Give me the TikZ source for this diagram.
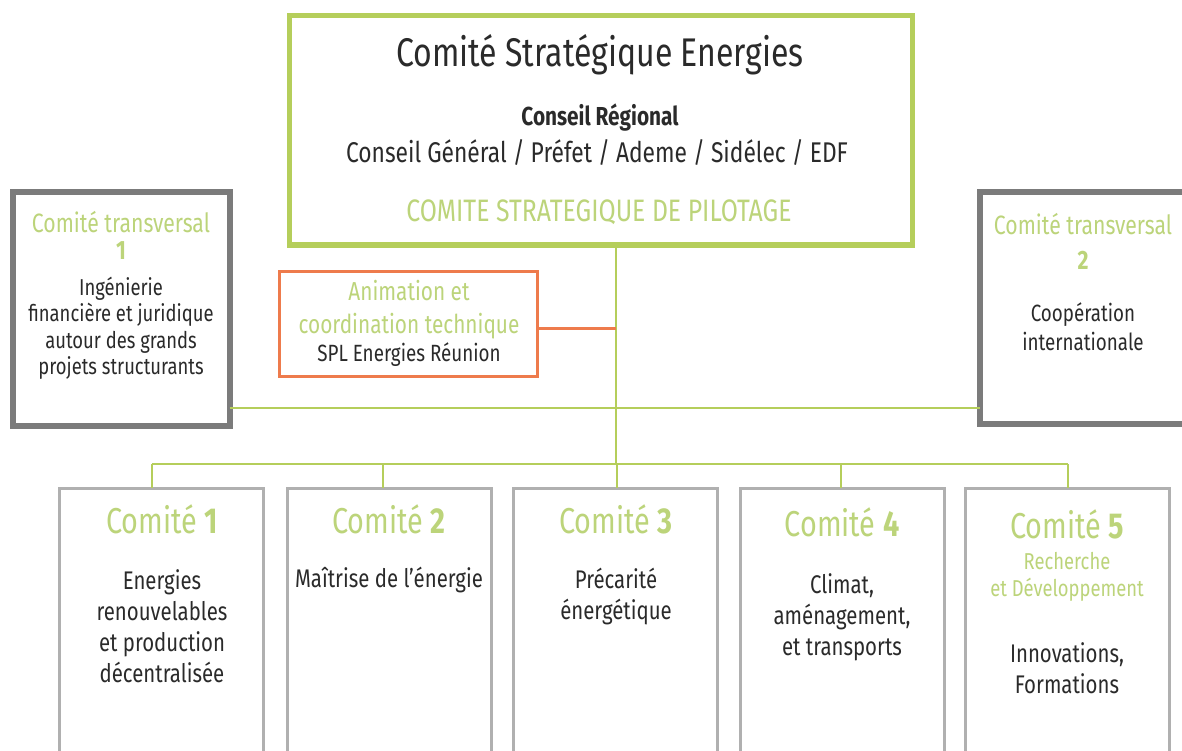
\documentclass[tikz,border=0pt]{standalone}
\usepackage{fontspec}
\setmainfont{Fira Sans}[FakeStretch=0.80]
\definecolor{lgreen}{HTML}{B5CE5B}
\definecolor{tgreen}{HTML}{BCD47A}
\definecolor{dgray}{HTML}{7B7B7B}
\definecolor{lgray}{HTML}{B0B0B0}
\definecolor{orng}{HTML}{EE7B4C}
\definecolor{txtc}{HTML}{2A2A2A}
\begin{document}
\begin{tikzpicture}[x=1pt,y=-1pt,
  topbox/.style={draw=lgreen, line width=5pt, inner sep=0pt, outer sep=0pt},
  tbox/.style={draw=dgray, line width=6pt, inner sep=0pt, outer sep=0pt},
  obox/.style={draw=orng, line width=3pt, inner sep=0pt, outer sep=0pt},
  cbox/.style={draw=lgray, line width=3pt, inner sep=0pt, outer sep=0pt, minimum width=204pt, minimum height=312pt},
  link/.style={draw=lgreen, line width=2.5pt},
  olink/.style={draw=orng, line width=3pt},
  lbl/.style={text=txtc, align=center, inner sep=0pt},
  glbl/.style={text=tgreen, align=center, inner sep=0pt},
  ttitle/.style={font=\fontsize{26.5}{30}\selectfont},
  tnum/.style={font=\fontsize{26.5}{30}\selectfont\bfseries},
  fbody/.style={font=\fontsize{23}{26.5}\selectfont},
  cbody/.style={font=\fontsize{25.5}{31}\selectfont},
  ctitle/.style={font=\fontsize{36}{40}\selectfont}
]
\useasboundingbox (0,0) rectangle (1182,751);
\clip (0,0) rectangle (1182,751);
\fill[white] (0,0) rectangle (1182,751);

% boxes
\node[topbox, minimum width=623pt, minimum height=229pt] (top) at (600.5,130.5) {};
\node[tbox, minimum width=217pt, minimum height=233pt] (ct1) at (121,309) {};
\node[tbox, minimum width=207.5pt, minimum height=231.5pt] (ct2) at (1083.25,308.25) {};
\node[obox, minimum width=257.5pt, minimum height=105pt] (orange) at (408.25,324) {};
\node[cbox] (c1) at (161,644) {};
\node[cbox] (c2) at (389,644) {};
\node[cbox] (c3) at (615.5,644) {};
\node[cbox] (c4) at (842,644) {};
\node[cbox] (c5) at (1067,644) {};

% junction coordinates
\coordinate (jv) at (616,464);
\coordinate (hm) at (616,408);
\coordinate (oj) at (616,328);
\coordinate (b1) at (152,464);
\coordinate (b2) at (383,464);
\coordinate (b3) at (617,464);
\coordinate (b4) at (841,464);
\coordinate (b5) at (1068,464);

% connectors
\draw[link] (top.south -| jv) -- (jv);
\draw[link] (ct1.east |- hm) -- (ct2.west |- hm);
\draw[olink] (orange.east |- oj) -- (oj);
\draw[link] (b1) -- (b5);
\draw[link] (b1) -- (c1.north -| b1);
\draw[link] (b2) -- (c2.north -| b2);
\draw[link] (b3) -- (c3.north -| b3);
\draw[link] (b4) -- (c4.north -| b4);
\draw[link] (b5) -- (c5.north -| b5);

% top box texts
\node[lbl, font=\fontsize{40}{46}\selectfont] (t1) at (600,55) {Comité Stratégique Energies};
\node[lbl, font=\fontsize{26}{30}\selectfont\bfseries] (t2) at (600,118) {Conseil Régional};
\node[lbl, font=\fontsize{28.5}{32}\selectfont] (t3) at (597,152) {Conseil Général / Préfet / Ademe / Sidélec / EDF};
\node[glbl, font=\fontsize{31}{36}\selectfont] (t4) at (599,212) {COMITE STRATEGIQUE DE PILOTAGE};

% transversal 1
\node[glbl, ttitle] (ct1a) at (121,222) {Comité transversal};
\node[glbl, tnum] (ct1b) at (121,251) {1};
\node[lbl, fbody] (ct1c) at (121,328) {Ingénierie\\financière et juridique\\autour des grands\\projets structurants};

% transversal 2
\node[glbl, ttitle] (ct2a) at (1083,224) {Comité transversal};
\node[glbl, tnum] (ct2b) at (1083,260) {2};
\node[lbl, font=\fontsize{23.5}{29}\selectfont] (ct2c) at (1083,327) {Coopération\\internationale};

% orange box
\node[glbl, font=\fontsize{26}{33}\selectfont] (oa) at (409,310) {Animation et\\coordination technique};
\node[lbl, font=\fontsize{23.5}{26}\selectfont] (ob) at (409,355) {SPL Energies Réunion};

% bottom committees
\node[glbl, ctitle] (c1t) at (162,519) {Comité \textbf{1}};
\node[lbl, cbody] (c1b) at (162,626) {Energies\\renouvelables\\et production\\décentralisée};

\node[glbl, ctitle] (c2t) at (389,519) {Comité \textbf{2}};
\node[lbl, cbody] (c2b) at (389,580) {Maîtrise de l’énergie};

\node[glbl, ctitle] (c3t) at (616,519) {Comité \textbf{3}};
\node[lbl, cbody] (c3b) at (616,596.5) {Précarité\\énergétique};

\node[glbl, ctitle] (c4t) at (842,522) {Comité \textbf{4}};
\node[lbl, cbody] (c4b) at (842,617) {Climat,\\aménagement,\\et transports};

\node[glbl, ctitle] (c5t) at (1067,524) {Comité \textbf{5}};
\node[glbl, font=\fontsize{23}{27}\selectfont] (c5s) at (1067,576.5) {Recherche\\et Développement};
\node[lbl, cbody] (c5b) at (1067,668.5) {Innovations,\\Formations};
\end{tikzpicture}
\end{document}
